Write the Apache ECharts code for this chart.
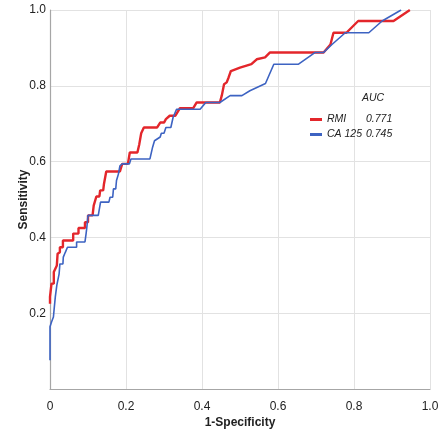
<!DOCTYPE html>
<html><head><meta charset="utf-8">
<script src="https://cdn.jsdelivr.net/npm/echarts@6/dist/echarts.min.js"></script>
<style>html,body{margin:0;padding:0;background:#fff}#c{width:444px;height:431px}</style>
</head><body><div id="c"></div>
<script>
const seriesNames = ['RMI', 'CA 125'];
const aucValues = ['0.771', '0.745'];
const xTicks = [0, 0.2, 0.4, 0.6, 0.8, 1.0];
const rmiPoints = [[0,0.225],[0,0.243],[0.004,0.243],[0.004,0.278],[0.01,0.278],[0.01,0.309],[0.018,0.326],[0.02,0.357],[0.026,0.361],[0.026,0.374],[0.034,0.374],[0.034,0.392],[0.061,0.392],[0.061,0.41],[0.075,0.41],[0.075,0.425],[0.092,0.425],[0.092,0.44],[0.1,0.44],[0.1,0.458],[0.112,0.458],[0.115,0.484],[0.12,0.484],[0.122,0.508],[0.13,0.508],[0.132,0.524],[0.14,0.524],[0.142,0.541],[0.147,0.541],[0.148,0.574],[0.184,0.574],[0.19,0.594],[0.205,0.594],[0.21,0.624],[0.23,0.624],[0.235,0.646],[0.24,0.675],[0.247,0.69],[0.282,0.69],[0.29,0.703],[0.3,0.703],[0.305,0.712],[0.315,0.721],[0.33,0.721],[0.342,0.741],[0.377,0.741],[0.386,0.756],[0.447,0.756],[0.452,0.774],[0.458,0.804],[0.465,0.809],[0.47,0.822],[0.476,0.839],[0.5,0.848],[0.53,0.857],[0.544,0.87],[0.566,0.875],[0.579,0.888],[0.72,0.888],[0.738,0.909],[0.746,0.94],[0.78,0.94],[0.811,0.971],[0.904,0.971],[0.947,1.0]];
const ca125Points = [[0,0.076],[0,0.164],[0.004,0.177],[0.009,0.19],[0.011,0.212],[0.014,0.243],[0.018,0.274],[0.024,0.304],[0.026,0.33],[0.034,0.33],[0.035,0.348],[0.04,0.36],[0.044,0.36],[0.046,0.374],[0.07,0.374],[0.07,0.388],[0.092,0.388],[0.095,0.41],[0.097,0.427],[0.1,0.458],[0.127,0.458],[0.133,0.493],[0.155,0.493],[0.158,0.506],[0.165,0.506],[0.167,0.528],[0.173,0.528],[0.175,0.55],[0.18,0.567],[0.184,0.589],[0.19,0.594],[0.209,0.594],[0.213,0.607],[0.263,0.607],[0.27,0.638],[0.275,0.655],[0.29,0.665],[0.293,0.675],[0.3,0.675],[0.305,0.69],[0.318,0.69],[0.324,0.717],[0.333,0.738],[0.395,0.738],[0.41,0.756],[0.447,0.756],[0.474,0.774],[0.505,0.774],[0.526,0.787],[0.567,0.806],[0.589,0.857],[0.654,0.857],[0.698,0.888],[0.72,0.888],[0.742,0.909],[0.777,0.94],[0.839,0.94],[0.874,0.971],[0.924,1.0]];
const colors = ['#e3262b', '#3d63c2'];

const font = '"Liberation Sans Narrow","Liberation Sans",Arial,sans-serif';
const chart = echarts.init(document.getElementById('c'));
chart.setOption({
  animation: false,
  backgroundColor: '#fff',
  grid: { left: 50, right: 14, top: 10, bottom: 42, containLabel: false, outerBoundsMode: 'none' },
  xAxis: {
    type: 'value', min: 0, max: 1, interval: 0.2,
    name: '1-Specificity', nameLocation: 'middle', nameGap: 28, nameMoveOverlap: false,
    nameTextStyle: { fontFamily: font, fontSize: 12, color: '#222', fontWeight: 'bold' },
    axisLine: { show: true, lineStyle: { color: '#a6a6a6', width: 1.2 } },
    axisTick: { show: false },
    axisLabel: { margin: 12, fontFamily: font, fontSize: 12, color: '#222',
      formatter: v => v === 0 ? '0' : v.toFixed(1) },
    splitLine: { show: true, lineStyle: { color: '#e2e2e2', width: 1 } }
  },
  yAxis: {
    type: 'value', min: 0, max: 1, interval: 0.2,
    name: 'Sensitivity', nameLocation: 'middle', nameGap: 20, nameMoveOverlap: false,
    nameTextStyle: { fontFamily: font, fontSize: 12, color: '#222', fontWeight: 'bold' },
    axisLine: { show: true, lineStyle: { color: '#a6a6a6', width: 1.2 } },
    axisTick: { show: false },
    axisLabel: { margin: 4, fontFamily: font, fontSize: 12, color: '#222',
      formatter: v => v === 0 ? '' : v.toFixed(1) },
    splitLine: { show: true, lineStyle: { color: '#e2e2e2', width: 1 } }
  },
  legend: {
    orient: 'vertical', left: 305, top: 109, itemGap: 4,
    itemWidth: 12, itemHeight: 3,
    data: seriesNames.map(n => ({ name: n, icon: 'rect' })),
    formatter: name => '{n|' + name + '}{v|' + aucValues[seriesNames.indexOf(name)] + '}',
    textStyle: {
      fontFamily: font, fontStyle: 'italic', fontSize: 10.5, color: '#222',
      rich: {
        n: { width: 39, fontFamily: font, fontStyle: 'italic', fontSize: 10.5, color: '#222' },
        v: { fontFamily: font, fontStyle: 'italic', fontSize: 10.5, color: '#222' }
      }
    }
  },
  graphic: [{
    type: 'text', left: 362, top: 93,
    style: { text: 'AUC', font: 'italic 10.5px ' + font, fill: '#222' }
  }],
  series: [
    { name: seriesNames[0], type: 'line', data: rmiPoints, showSymbol: false,
      color: colors[0], lineStyle: { width: 2.4, color: colors[0] }, z: 3 },
    { name: seriesNames[1], type: 'line', data: ca125Points, showSymbol: false,
      color: colors[1], lineStyle: { width: 1.6, color: colors[1] }, z: 4 }
  ]
});
</script></body></html>
